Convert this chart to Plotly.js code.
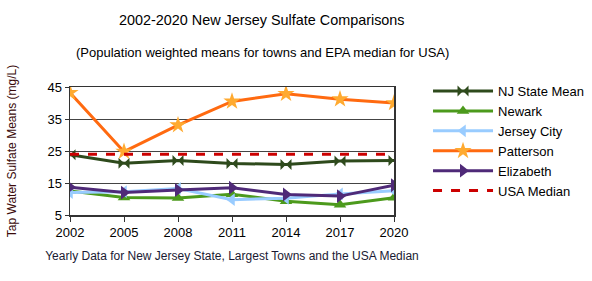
<!DOCTYPE html>
<html><head><meta charset="utf-8">
<script src="https://cdn.plot.ly/plotly-3.0.1.min.js"></script>
<style>html,body{margin:0;padding:0;background:#fff}#c{width:592px;height:281px}</style>
</head><body><div id="c"></div>
<script>
const years = [2002, 2005, 2008, 2011, 2014, 2017, 2020];
const njMean = [23.8, 21.2, 22.0, 21.1, 20.8, 21.9, 22.0];
const newark = [12.5, 10.5, 10.3, 11.5, 9.3, 8.2, 10.4];
const jerseyCity = [12.0, 12.3, 13.3, 9.8, 10.2, 11.6, 12.6];
const patterson = [43.2, 24.8, 33.1, 40.5, 42.9, 41.2, 40.0];
const elizabeth = [13.7, 12.0, 12.8, 13.5, 11.4, 10.9, 14.3];
const usaMedian = [24, 24, 24, 24, 24, 24, 24];
const yTicks = [5, 15, 25, 35, 45];

const F = 'Liberation Sans, Arial, sans-serif';
function tr(name, y, color, symbol, mcolor, msize, dash) {
  const t = {x: years, y: y, name: name, type: 'scatter',
    mode: symbol ? 'lines+markers' : 'lines',
    line: {color: color, width: 3, dash: dash || 'solid'}};
  if (symbol) t.marker = {symbol: symbol, size: msize, color: mcolor, line: {width: 0}};
  return t;
}
const data = [
  tr('NJ State Mean', njMean, '#2e4a1c', 'bowtie', '#2e4a1c', 11),
  tr('Newark', newark, '#4c9a1c', 'triangle-up', '#4c9a1c', 11),
  tr('Jersey City', jerseyCity, '#99ccff', 'triangle-left', '#99ccff', 11),
  tr('Patterson', patterson, '#ff6a10', 'star', '#ffaa30', 13),
  tr('Elizabeth', elizabeth, '#4f2a78', 'triangle-right', '#4f2a78', 12),
  tr('USA Median', usaMedian, '#cc0000', null, null, 0, 'dash')
];
const layout = {
  width: 592, height: 281,
  margin: {l: 70, r: 198, t: 87, b: 66, autoexpand: false},
  paper_bgcolor: '#fff', plot_bgcolor: '#fff',
  font: {family: F, size: 12, color: '#000'},
  showlegend: true,
  legend: {x: 1.105, xanchor: 'left', y: 1.085, yanchor: 'top',
    font: {family: F, size: 13, color: '#000'}, tracegroupgap: 0, itemwidth: 60},
  annotations: [
    {text: '2002-2020 New Jersey Sulfate Comparisons', xref: 'paper', yref: 'paper',
     x: (262 - 70) / 324, y: 1, yshift: 67, xanchor: 'center', yanchor: 'middle',
     showarrow: false, font: {family: F, size: 14.4, color: '#000'}},
    {text: '(Population weighted means for towns and EPA median for USA)', xref: 'paper', yref: 'paper',
     x: (262 - 70) / 324, y: 1, yshift: 35, xanchor: 'center', yanchor: 'middle',
     showarrow: false, font: {family: F, size: 13, color: '#000'}}
  ],
  xaxis: {
    range: [2002, 2020], tickvals: years, ticktext: years.map(String),
    showgrid: false, zeroline: false, showline: true, linecolor: '#333', linewidth: 1.5, mirror: true,
    ticks: 'outside', ticklen: 5, tickcolor: '#333',
    tickfont: {family: F, size: 13, color: '#000'},
    title: {text: 'Yearly Data for New Jersey State, Largest Towns and the USA Median',
      font: {family: F, size: 12, color: '#1a1a33'}, standoff: 12}
  },
  yaxis: {
    range: [5, 45], tickvals: yTicks, showgrid: true, gridcolor: '#444', gridwidth: 1,
    zeroline: false, showline: true, linecolor: '#333', linewidth: 1.5, mirror: true,
    ticks: 'outside', ticklen: 4, tickcolor: '#333',
    tickfont: {family: F, size: 13, color: '#000'},
    title: {text: 'Tap Water Sulfate Means (mg/L)', font: {family: F, size: 12, color: '#3a0a0a'}, standoff: 28}
  }
};
Plotly.newPlot('c', data, layout, {displayModeBar: false, staticPlot: true});
</script></body></html>
